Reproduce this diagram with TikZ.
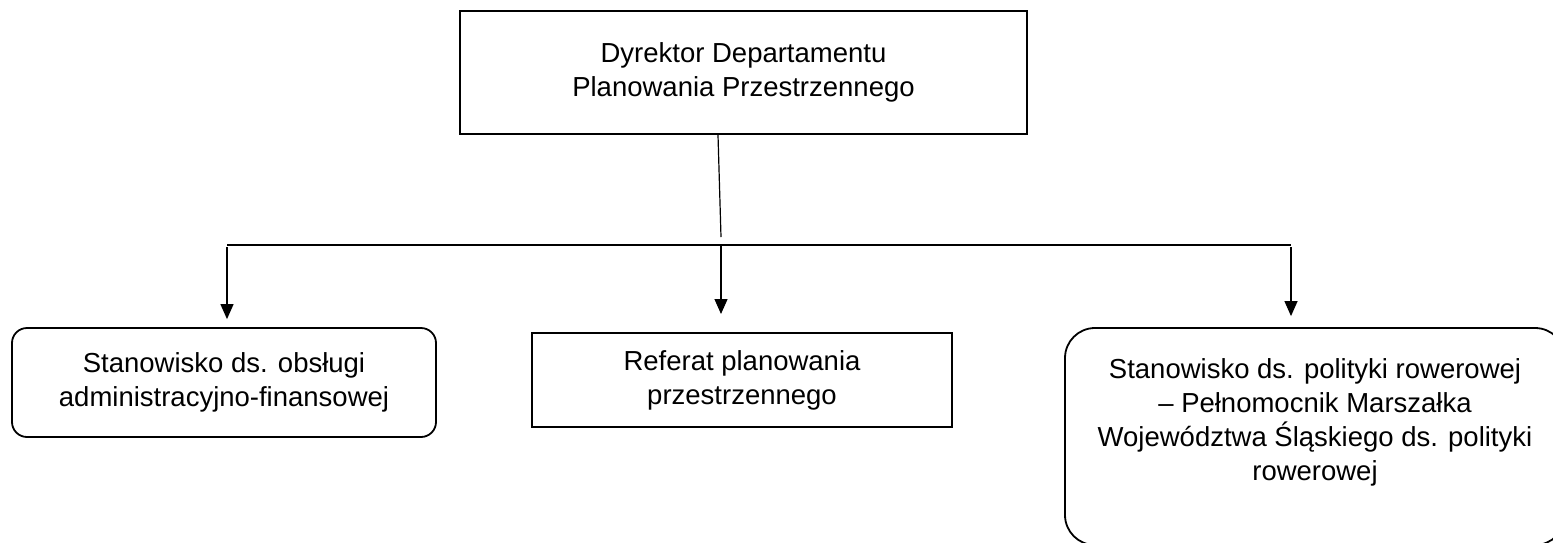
\documentclass[tikz,border=0pt]{standalone}
\usepackage{fontspec}
\setmainfont{Liberation Sans}
\usetikzlibrary{arrows.meta}

\begin{document}
\begin{tikzpicture}[
  x=1pt,y=-1pt,
  every node/.style={font=\fontsize{27.5}{34}\selectfont,align=center,inner sep=0},
  head/.style={draw,line width=2.2pt,minimum width=567pt,minimum height=123pt},
  unit/.style={draw,line width=2pt,minimum width=420pt,minimum height=94pt},
  post/.style={draw,line width=1.8pt,rounded corners=15pt,minimum width=424pt,minimum height=109pt},
  large post/.style={post,rounded corners=30pt,minimum width=500pt,minimum height=217pt},
  link/.style={line width=1.2pt},
  arr/.style={link,-{Triangle[length=15pt,width=13pt]}},
]
  \useasboundingbox (0,0) rectangle (1553,542);
  \node[head] (dyr) at (743.5,72.5) {Dyrektor Departamentu\\Planowania Przestrzennego};
  \node[post] (adm) at (224,382.5) {Stanowisko ds. obsługi\\administracyjno-finansowej};
  \node[unit] (ref) at (742,380) {Referat planowania\\przestrzennego};
  \node[large post] (row) at (1315,436.5) {Stanowisko ds. polityki rowerowej\\– Pełnomocnik Marszałka\\Województwa Śląskiego ds. polityki\\rowerowej\\\mbox{}};
  \coordinate (bus-l) at (227,245);
  \coordinate (bus-r) at (1291,245);
  \coordinate (bus-m) at (721,237);
  \draw[link] ([xshift=-25.5pt]dyr.south) -- (bus-m);
  \draw[link] (bus-l) -- (bus-r);
  \draw[arr] ([yshift=-2pt]bus-l) -- ([yshift=8pt]adm.north -| bus-l);
  \draw[arr] (bus-m |- bus-l) -- ([yshift=18pt]ref.north -| bus-m);
  \draw[arr] ([yshift=-2pt]bus-r) -- ([yshift=11pt]row.north -| bus-r);
\end{tikzpicture}
\end{document}
